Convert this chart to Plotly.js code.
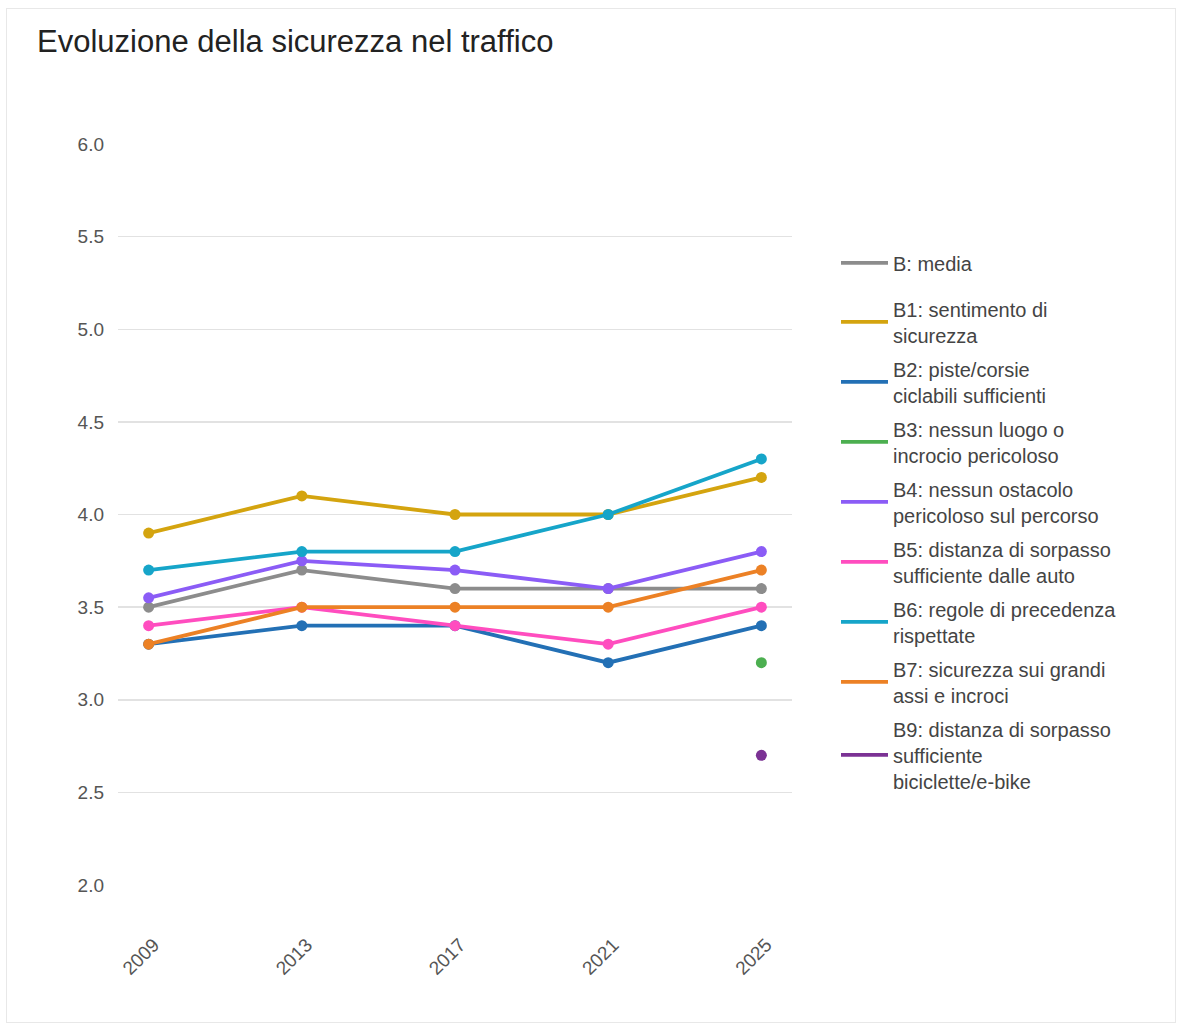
<!DOCTYPE html>
<html>
<head>
<meta charset="utf-8">
<script src="https://cdn.plot.ly/plotly-3.0.1.min.js"></script>
<style>
html,body{margin:0;padding:0;background:#fff;}
#chart{width:1177px;height:1026px;}
#frame{position:absolute;left:6px;top:8px;width:1170px;height:1015px;border:1px solid #e8e8e8;pointer-events:none;box-sizing:border-box;}
</style>
</head>
<body>
<div id="chart"></div>
<div id="frame"></div>
<script>
const years = ["2009", "2013", "2017", "2021", "2025"];

const seriesNames = [
  "B: media",
  "B1: sentimento di<br>sicurezza",
  "B2: piste/corsie<br>ciclabili sufficienti",
  "B3: nessun luogo o<br>incrocio pericoloso",
  "B4: nessun ostacolo<br>pericoloso sul percorso",
  "B5: distanza di sorpasso<br>sufficiente dalle auto",
  "B6: regole di precedenza<br>rispettate",
  "B7: sicurezza sui grandi<br>assi e incroci",
  "B9: distanza di sorpasso<br>sufficiente<br>biciclette/e-bike"
];

const bMedia = [3.5, 3.7, 3.6, 3.6, 3.6];
const b1 = [3.9, 4.1, 4.0, 4.0, 4.2];
const b2 = [3.3, 3.4, 3.4, 3.2, 3.4];
const b3 = [null, null, null, null, 3.2];
const b4 = [3.55, 3.75, 3.7, 3.6, 3.8];
const b5 = [3.4, 3.5, 3.4, 3.3, 3.5];
const b6 = [3.7, 3.8, 3.8, 4.0, 4.3];
const b7 = [3.3, 3.5, 3.5, 3.5, 3.7];
const b9 = [null, null, null, null, 2.7];

const seriesValues = [bMedia, b1, b2, b3, b4, b5, b6, b7, b9];
const colors = ["#8c8c8c", "#d4a40f", "#2370b5", "#4caf50", "#8b5cf6", "#ff4dbf", "#16a5c9", "#ec8125", "#7b3294"];

const traces = [];
seriesValues.forEach((vals, i) => {
  const grp = "g" + i;
  traces.push({
    type: "scatter",
    mode: "lines",
    x: years,
    y: vals,
    name: seriesNames[i],
    legendgroup: grp,
    legend: i === 0 ? "legend" : "legend2",
    line: {color: colors[i], width: 3.8},
    connectgaps: false
  });
  traces.push({
    type: "scatter",
    mode: "markers",
    x: years,
    y: vals,
    name: seriesNames[i],
    legendgroup: grp,
    legend: i === 0 ? "legend" : "legend2",
    showlegend: false,
    marker: {color: colors[i], size: 11}
  });
});

const legendFont = {size: 20, color: "#444444", family: "Liberation Sans, Arial, sans-serif"};

const layout = {
  width: 1177,
  height: 1026,
  paper_bgcolor: "#ffffff",
  plot_bgcolor: "#ffffff",
  font: {family: "Liberation Sans, Arial, sans-serif", color: "#555555", size: 19},
  title: {
    text: "Evoluzione della sicurezza nel traffico",
    font: {size: 31, color: "#222222"},
    x: 37 / 1177, xanchor: "left",
    y: 1 - 41 / 1026, yanchor: "middle"
  },
  margin: {l: 118, r: 385, t: 144, b: 141},
  xaxis: {
    type: "category",
    range: [-0.2, 4.2],
    showgrid: false,
    zeroline: false,
    showline: false,
    tickangle: -45,
    ticks: "",
    ticklabelstandoff: 44,
    ticklabelshift: 5,
    tickfont: {size: 19, color: "#555555"}
  },
  yaxis: {
    range: [2, 6],
    dtick: 0.5,
    tickformat: ".1f",
    showgrid: true,
    gridcolor: "#e2e2e2",
    gridwidth: 1.5,
    zeroline: false,
    showline: false,
    ticks: "",
    ticklabelstandoff: 13,
    tickfont: {size: 19, color: "#555555"}
  },
  showlegend: true,
  legend: {
    x: (836 - 118) / 674, xanchor: "left",
    y: (885 - 243.4) / 741, yanchor: "top",
    font: legendFont,
    tracegroupgap: 5,
    itemwidth: 47,
    bgcolor: "rgba(0,0,0,0)"
  },
  legend2: {
    x: (836 - 118) / 674, xanchor: "left",
    y: (885 - 289.4) / 741, yanchor: "top",
    font: legendFont,
    tracegroupgap: 5,
    itemwidth: 47,
    bgcolor: "rgba(0,0,0,0)"
  }
};

Plotly.newPlot("chart", traces, layout, {displayModeBar: false, staticPlot: true});
</script>
</body>
</html>
